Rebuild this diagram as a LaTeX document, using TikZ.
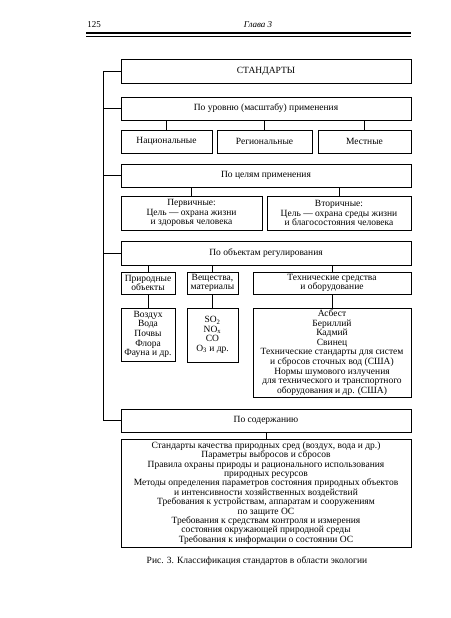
\documentclass[tikz,border=0pt]{standalone}
\usepackage{fontspec}
\setmainfont{Liberation Serif}
\begin{document}
\begin{tikzpicture}[x=1pt,y=-1pt,
  box/.style={draw,line width=0.6pt,inner sep=0pt,align=center,font=\fontsize{9.5}{10}\selectfont},
  lst/.style={box,font=\fontsize{9.5}{9.6}\selectfont},
  conn/.style={line width=0.6pt},
  hdr/.style={inner sep=0pt,font=\fontsize{9}{10}\selectfont}]
\useasboundingbox (0,0) rectangle (450,618);
% header
\node[hdr] (pg) at (94,25) {125};
\node[hdr,font=\fontsize{9}{10}\selectfont\itshape] (ch) at (258,25) {Глава 3};
\coordinate (hl1) at (86,33);
\coordinate (hr1) at (411,33);
\coordinate (hl2) at (86,36.5);
\coordinate (hr2) at (411,36.5);
\draw[line width=1.3pt] (hl1) -- (hr1);
\draw[line width=0.6pt] (hl2) -- (hr2);
% boxes
\node[box,minimum width=290pt,minimum height=24pt] (std) at (266,71) {СТАНДАРТЫ};
\node[box,minimum width=290pt,minimum height=23pt] (lvl) at (266,108.5) {По уровню (масштабу) применения};
\node[box,minimum width=91pt,minimum height=23pt] (nat) at (166.5,141.5) {Национальные};
\node[box,minimum width=95pt,minimum height=23pt] (reg) at (264.5,141.5) {Региональные};
\node[box,minimum width=93pt,minimum height=23pt] (loc) at (364.5,141.5) {Местные};
\node[box,minimum width=290pt,minimum height=23pt] (goal) at (266,175.5) {По целям применения};
\node[box,minimum width=141pt,minimum height=34pt,font=\fontsize{9.5}{9.5}\selectfont] (prim) at (191.5,213) {Первичные:\\Цель — охрана жизни\\и здоровья человека};
\node[box,minimum width=144pt,minimum height=34pt,font=\fontsize{9.5}{9.5}\selectfont] (sec) at (339,213) {Вторичные:\\Цель — охрана среды жизни\\и благосостояния человека};
\node[box,minimum width=290pt,minimum height=24pt] (obj) at (266,253) {По объектам регулирования};
\node[box,minimum width=54pt,minimum height=22pt,font=\fontsize{9.5}{9.5}\selectfont] (nobj) at (148,283) {Природные\\объекты};
\node[box,minimum width=51pt,minimum height=22pt,font=\fontsize{9.5}{9.5}\selectfont] (subst) at (212.5,283) {Вещества,\\материалы};
\node[box,minimum width=158pt,minimum height=22pt,font=\fontsize{9.5}{9.5}\selectfont] (tech) at (332,283) {Технические средства\\и оборудование};
\node[lst,minimum width=54pt,minimum height=53pt] (nlist) at (148,334.5) {Воздух\\Вода\\Почвы\\Флора\\Фауна и др.};
\node[lst,minimum width=51pt,minimum height=54pt] (slist) at (212.5,335) {SO\textsubscript{2}\\NO\textsubscript{x}\\CO\\O\textsubscript{3} и др.};
\node[lst,minimum width=158pt,minimum height=89pt] (tlist) at (332,352.5) {Асбест\\Бериллий\\Кадмий\\Свинец\\Технические стандарты для систем\\и сбросов сточных вод (США)\\Нормы шумового излучения\\для технического и транспортного\\оборудования и др. (США)};
\node[box,minimum width=290pt,minimum height=23pt] (cont) at (266,420.5) {По содержанию};
\node[box,minimum width=290pt,minimum height=108pt,font=\fontsize{9.5}{9.4}\selectfont] (clist) at (266,493) {Стандарты качества природных сред (воздух, вода и др.)\\Параметры выбросов и сбросов\\Правила охраны природы и рационального использования\\природных ресурсов\\Методы определения параметров состояния природных объектов\\и интенсивности хозяйственных воздействий\\Требования к устройствам, аппаратам и сооружениям\\по защите ОС\\Требования к средствам контроля и измерения\\состояния окружающей природной среды\\Требования к информации о состоянии ОС};
\node[hdr,font=\fontsize{9.5}{10}\selectfont] (cap) at (257,561) {Рис. 3. Классификация стандартов в области экологии};
% trunk
\coordinate (tr) at (103,0);
\draw[conn] (std.west) -- (std.west -| tr) -- (cont.west -| tr) -- (cont.west);
\draw[conn] (lvl.west -| tr) -- (lvl.west);
\draw[conn] (goal.west -| tr) -- (goal.west);
\draw[conn] (obj.west -| tr) -- (obj.west);
% connectors
\foreach \a/\b in {lvl/nat,lvl/reg,lvl/loc,goal/prim,goal/sec,obj/nobj,obj/subst,obj/tech,nobj/nlist,subst/slist,tech/tlist,cont/clist}
  \draw[conn] (\a.south -| \b.north) -- (\b.north);
\end{tikzpicture}
\end{document}
